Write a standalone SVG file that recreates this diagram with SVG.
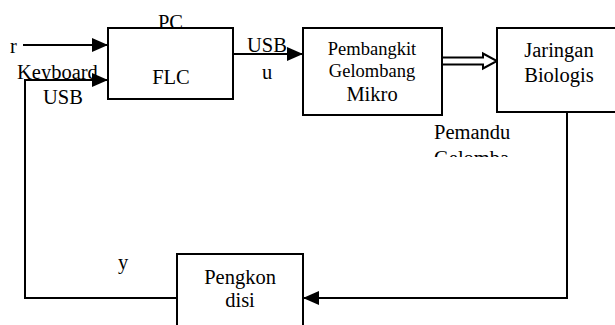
<svg xmlns="http://www.w3.org/2000/svg" width="615" height="325" viewBox="0 0 615 325">
<style>
text{font-family:'Liberation Serif','DejaVu Serif',serif;fill:#000}
.t{font-size:20.5px}
.s{font-size:18.5px}
.box{fill:#fff;stroke:#000;stroke-width:2}
.ln{fill:none;stroke:#000;stroke-width:2}
</style>
<defs>
<marker id="ah" markerUnits="userSpaceOnUse" markerWidth="16" markerHeight="14" refX="16" refY="7" orient="auto">
<path d="M0,0 L16,7 L0,14 Z" fill="#000"/>
</marker>
<clipPath id="kbClip"><rect x="0" y="55" width="110" height="24"/></clipPath>
<clipPath id="gwClip"><rect x="420" y="140" width="100" height="17"/></clipPath>
</defs>
<text class="t" x="170.5" y="29" text-anchor="middle" font-family="Liberation Serif">PC</text>
<g id="connectors">
<path class="ln" d="M23,45 H108" marker-end="url(#ah)"/>
<path class="ln" d="M177,298 H25 V80 H108" marker-end="url(#ah)"/>
<path class="ln" d="M233,54 H303" marker-end="url(#ah)"/>
<path class="ln" d="M567,112 V298 H303" marker-end="url(#ah)"/>
<path d="M442,57.5 H483 V53.5 L497,61 L483,68.5 V64.5 H442" fill="#fff" stroke="#000" stroke-width="2"/>
</g>
<g id="flc">
<rect class="box" x="108" y="28" width="125" height="71"/>
<text class="t" x="171" y="84" text-anchor="middle">FLC</text>
</g>
<g id="pembangkit">
<rect class="box" x="303" y="28" width="139" height="87"/>
<text class="s" x="372" y="55" text-anchor="middle">Pembangkit</text>
<text class="s" x="372" y="77" text-anchor="middle">Gelombang</text>
<text class="t" x="372" y="101" text-anchor="middle">Mikro</text>
</g>
<g id="jaringan">
<rect class="box" x="497" y="28" width="125" height="84"/>
<text class="t" x="559" y="57" text-anchor="middle">Jaringan</text>
<text class="t" x="559" y="82" text-anchor="middle">Biologis</text>
</g>
<g id="pengkondisi">
<rect class="box" x="177" y="254" width="126" height="80"/>
<text class="t" x="240" y="284" text-anchor="middle">Pengkon</text>
<text class="t" x="240" y="307" text-anchor="middle">disi</text>
</g>
<g id="labels">
<text class="t" x="10" y="53">r</text>
<text class="t" x="17" y="78.5" clip-path="url(#kbClip)">Keyboard</text>
<text class="t" x="43" y="104">USB</text>
<text class="t" x="247" y="51.5">USB</text>
<text class="t" x="262" y="79">u</text>
<text class="t" x="434" y="139">Pemandu</text>
<text class="t" x="434" y="165" clip-path="url(#gwClip)">Gelomba</text>
<text class="t" x="118" y="269">y</text>
</g>
</svg>
